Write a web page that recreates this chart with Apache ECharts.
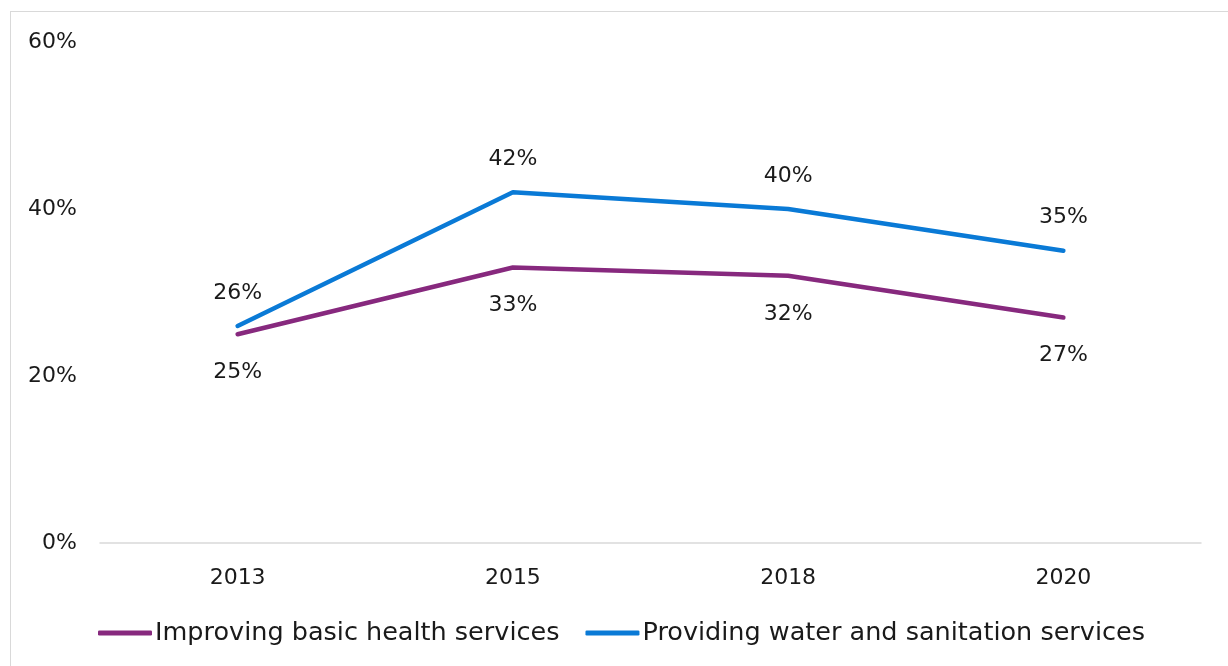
<!DOCTYPE html>
<html>
<head>
<meta charset="utf-8">
<script src="https://cdn.jsdelivr.net/npm/echarts@6/dist/echarts.min.js"></script>
<style>
  html, body { margin: 0; padding: 0; background: #fff; }
  #frame { position: absolute; left: 10px; top: 11px; width: 1240px; height: 700px; border: 1px solid #d9d9d9; box-sizing: border-box; }
  #chart { position: absolute; left: 0; top: 0; width: 1228px; height: 666px; }
</style>
</head>
<body>
<div id="frame"></div>
<div id="chart"></div>
<script>
const years = ['2013', '2015', '2018', '2020'];
const healthServices = [25, 33, 32, 27];
const waterSanitation = [26, 42, 40, 35];
const yTicks = [0, 20, 40, 60];

const FONT = '"DejaVu Sans", sans-serif';
const TEXT = '#1a1a1a';
const PURPLE = '#87297e';
const BLUE = '#0a7ad6';
const chart = echarts.init(document.getElementById('chart'));

chart.setOption({
  animation: false,
  textStyle: { fontFamily: FONT },
  grid: { left: 100, right: 27, top: 42, bottom: 123 },
  legend: {
    bottom: 20,
    left: 98,
    padding: 0,
    itemWidth: 54,
    itemHeight: 5,
    itemGap: 26,
    icon: 'roundRect',
    textStyle: { fontSize: 25.5, color: TEXT, fontFamily: FONT, padding: [0, 0, 0, -2] },
    data: ['Improving basic health services', 'Providing water and sanitation services']
  },
  xAxis: {
    type: 'category',
    data: years,
    boundaryGap: true,
    axisLine: { lineStyle: { color: '#d9d9d9', width: 1.5 } },
    axisTick: { show: false },
    axisLabel: { fontSize: 22, color: TEXT, margin: 24 }
  },
  yAxis: {
    type: 'value',
    min: yTicks[0],
    max: yTicks[yTicks.length - 1],
    interval: 20,
    splitLine: { show: false },
    axisLine: { show: false },
    axisTick: { show: false },
    axisLabel: { fontSize: 22, color: TEXT, margin: 23, formatter: v => v + '%' }
  },
  series: [
    {
      name: 'Improving basic health services',
      type: 'line',
      data: healthServices,
      symbol: 'circle',
      symbolSize: 0,
      lineStyle: { color: PURPLE, width: 4.5, cap: 'round' },
      itemStyle: { color: PURPLE },
      label: { show: true, position: 'bottom', distance: 27, fontSize: 22, color: TEXT, formatter: p => p.value + '%' }
    },
    {
      name: 'Providing water and sanitation services',
      type: 'line',
      data: waterSanitation,
      symbol: 'circle',
      symbolSize: 0,
      lineStyle: { color: BLUE, width: 4.5, cap: 'round' },
      itemStyle: { color: BLUE },
      label: { show: true, position: 'top', distance: 22, fontSize: 22, color: TEXT, formatter: p => p.value + '%' }
    }
  ]
});
</script>
</body>
</html>
